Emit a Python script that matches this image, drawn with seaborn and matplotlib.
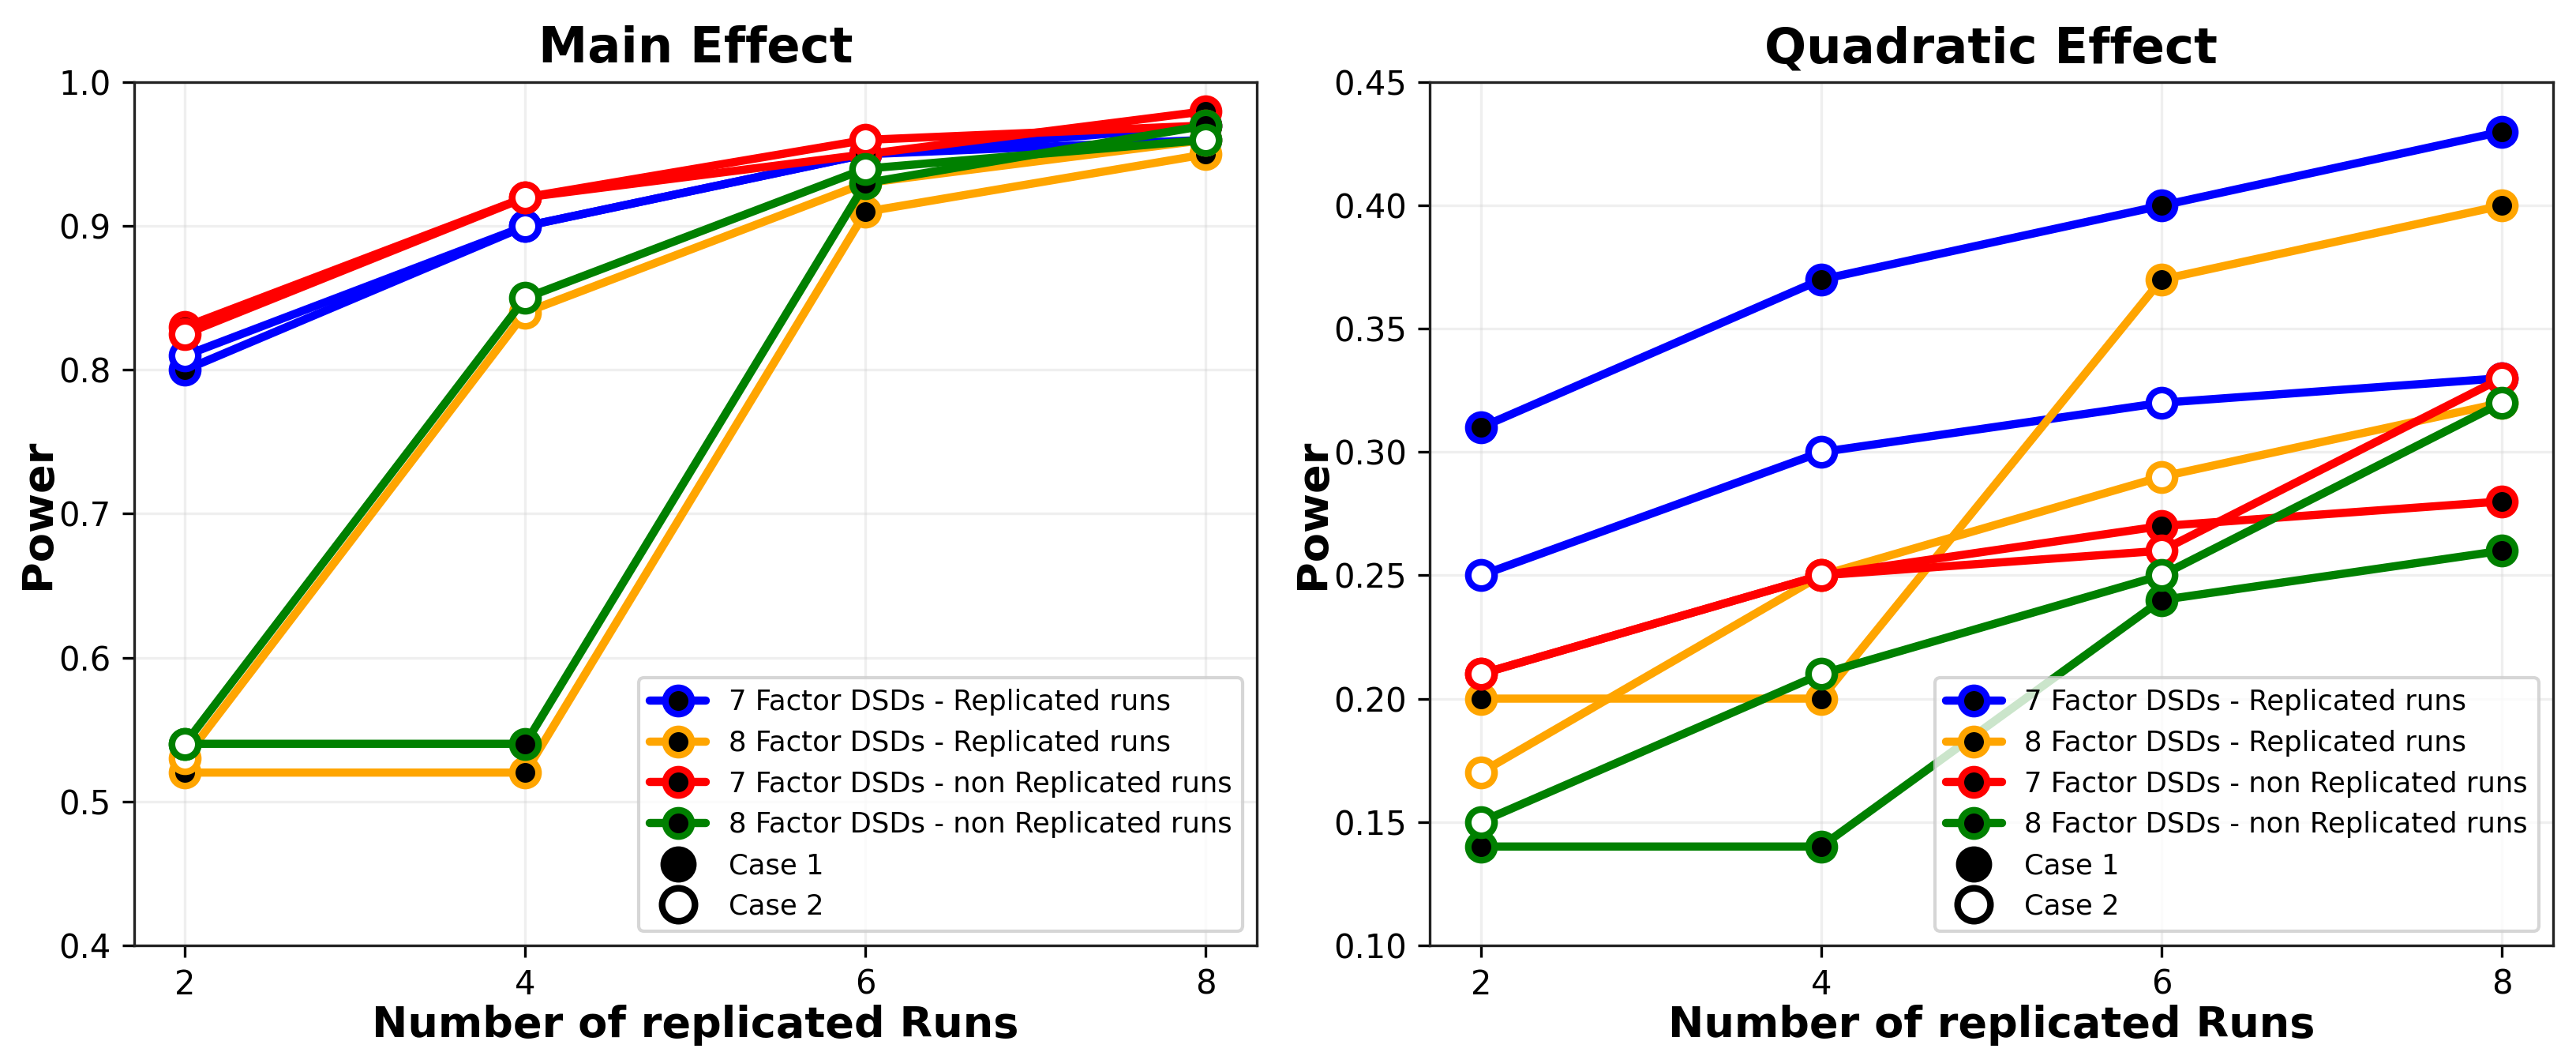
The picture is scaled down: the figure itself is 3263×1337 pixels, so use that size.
import seaborn as sns
import pandas as pd
import matplotlib.pyplot as plt
from matplotlib.lines import Line2D

runs = [2, 4, 6, 8]

series_names = ["7 Factor DSDs - Replicated runs",
                "8 Factor DSDs - Replicated runs",
                "7 Factor DSDs - non Replicated runs",
                "8 Factor DSDs - non Replicated runs"]
series_colors = ["blue", "orange", "red", "green"]

# Main effect power, case 1 / case 2
main_case1 = {
    "7 Factor DSDs - Replicated runs": [0.80, 0.90, 0.95, 0.97],
    "8 Factor DSDs - Replicated runs": [0.52, 0.52, 0.91, 0.95],
    "7 Factor DSDs - non Replicated runs": [0.83, 0.92, 0.95, 0.98],
    "8 Factor DSDs - non Replicated runs": [0.54, 0.54, 0.93, 0.97],
}
main_case2 = {
    "7 Factor DSDs - Replicated runs": [0.81, 0.90, 0.95, 0.96],
    "8 Factor DSDs - Replicated runs": [0.53, 0.84, 0.93, 0.96],
    "7 Factor DSDs - non Replicated runs": [0.825, 0.92, 0.96, 0.97],
    "8 Factor DSDs - non Replicated runs": [0.54, 0.85, 0.94, 0.96],
}

# Quadratic effect power, case 1 / case 2
quad_case1 = {
    "7 Factor DSDs - Replicated runs": [0.31, 0.37, 0.40, 0.43],
    "8 Factor DSDs - Replicated runs": [0.20, 0.20, 0.37, 0.40],
    "7 Factor DSDs - non Replicated runs": [0.21, 0.25, 0.27, 0.28],
    "8 Factor DSDs - non Replicated runs": [0.14, 0.14, 0.24, 0.26],
}
quad_case2 = {
    "7 Factor DSDs - Replicated runs": [0.25, 0.30, 0.32, 0.33],
    "8 Factor DSDs - Replicated runs": [0.17, 0.25, 0.29, 0.32],
    "7 Factor DSDs - non Replicated runs": [0.21, 0.25, 0.26, 0.33],
    "8 Factor DSDs - non Replicated runs": [0.15, 0.21, 0.25, 0.32],
}

sns.set_style("ticks")
plt.rcParams['font.family'] = ['DejaVu Sans']
plt.rcParams['text.color'] = 'black'
plt.rcParams['axes.labelcolor'] = 'black'
plt.rcParams['xtick.color'] = 'black'
plt.rcParams['ytick.color'] = 'black'
plt.rcParams['axes.edgecolor'] = '#222222'

fig, axes = plt.subplots(1, 2, figsize=(3263 / 300, 1337 / 300), dpi=300)
fig.subplots_adjust(left=0.052, right=0.991, bottom=0.105, top=0.922, wspace=0.154)


def draw_panel(ax, case1, case2, title, ylim, yticks):
    for name, color in zip(series_names, series_colors):
        for data, face in ((case1, "black"), (case2, "white")):
            df = pd.DataFrame({"runs": runs, "power": data[name]})
            sns.lineplot(data=df, x="runs", y="power", ax=ax, color=color,
                         marker="o", markersize=8, markerfacecolor=face,
                         markeredgecolor=color, markeredgewidth=2,
                         linewidth=2.5, legend=False)
    ax.set_title(title, fontsize=15, fontweight="bold")
    ax.set_xlabel("Number of replicated Runs", fontsize=13, fontweight="bold", labelpad=1)
    ax.set_ylabel("Power", fontsize=13, fontweight="bold", labelpad=0)
    ax.set_xticks(runs)
    ax.set_ylim(*ylim)
    ax.set_yticks(yticks)
    ax.tick_params(labelsize=10)
    ax.grid(True, alpha=0.3)

    handles = [Line2D([0], [0], color=c, marker="o", markersize=8,
                      markerfacecolor="black", markeredgecolor=c,
                      markeredgewidth=2, linewidth=2.5, label=n)
               for n, c in zip(series_names, series_colors)]
    handles.append(Line2D([0], [0], color="black", marker="o", linestyle="None",
                          markersize=10, markerfacecolor="black", label="Case 1"))
    handles.append(Line2D([0], [0], color="black", marker="o", linestyle="None",
                          markersize=10, markerfacecolor="white",
                          markeredgewidth=2, label="Case 2"))
    ax.legend(handles=handles, loc="lower right", fontsize=8.5)


draw_panel(axes[0], main_case1, main_case2, "Main Effect", (0.4, 1.0),
           [0.4, 0.5, 0.6, 0.7, 0.8, 0.9, 1.0])
draw_panel(axes[1], quad_case1, quad_case2, "Quadratic Effect", (0.10, 0.45),
           [0.10, 0.15, 0.20, 0.25, 0.30, 0.35, 0.40, 0.45])

plt.savefig("out.png", dpi=300)
plt.close()
